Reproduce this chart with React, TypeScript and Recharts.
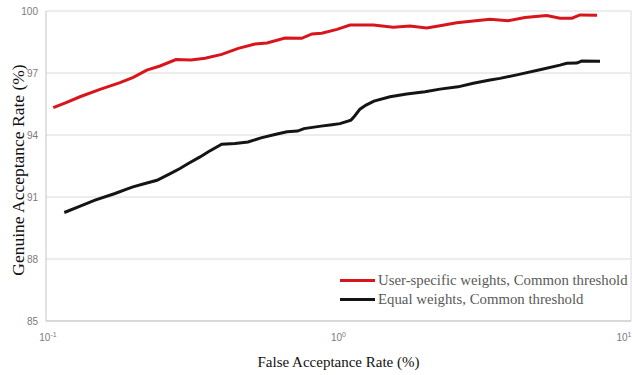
import React from 'react';
import { LineChart, Line, XAxis, YAxis, CartesianGrid, Legend, ReferenceLine, Label } from 'recharts';

// False acceptance rate (%) and genuine acceptance rate (%) per series
const userFar = [0.1059, 0.1177, 0.1307, 0.153, 0.1791, 0.1988, 0.221, 0.2453, 0.2782, 0.3131, 0.3498, 0.3988, 0.4544, 0.5183, 0.5696, 0.6564, 0.7485, 0.8117, 0.8762, 0.9883, 1.095, 1.315, 1.539, 1.755, 2.002, 2.223, 2.536, 2.89, 3.296, 3.798, 4.341, 5.15, 5.719, 6.284, 6.693, 7.651];
const userGar = [95.32, 95.58, 95.85, 96.21, 96.53, 96.79, 97.14, 97.34, 97.65, 97.63, 97.71, 97.9, 98.19, 98.4, 98.45, 98.69, 98.68, 98.89, 98.92, 99.11, 99.32, 99.32, 99.21, 99.27, 99.18, 99.29, 99.43, 99.52, 99.6, 99.53, 99.69, 99.78, 99.65, 99.65, 99.81, 99.8];

const equalFar = [0.1155, 0.129, 0.1471, 0.1722, 0.1888, 0.1983, 0.2181, 0.2396, 0.269, 0.2871, 0.3065, 0.3363, 0.359, 0.3988, 0.4429, 0.4905, 0.5433, 0.6113, 0.6668, 0.7242, 0.7621, 0.8714, 0.9502, 1.012, 1.103, 1.134, 1.184, 1.242, 1.322, 1.5, 1.711, 1.976, 2.223, 2.562, 2.89, 3.296, 3.565, 4.108, 4.924, 5.719, 6.027, 6.523, 6.785, 7.834];
const equalGar = [90.25, 90.52, 90.85, 91.17, 91.38, 91.49, 91.65, 91.81, 92.17, 92.38, 92.62, 92.94, 93.19, 93.55, 93.59, 93.66, 93.86, 94.04, 94.16, 94.19, 94.31, 94.43, 94.5, 94.55, 94.72, 94.91, 95.25, 95.45, 95.64, 95.85, 95.98, 96.09, 96.22, 96.33, 96.5, 96.66, 96.74, 96.92, 97.17, 97.38, 97.47, 97.48, 97.58, 97.57];

const xTicks = [0.1, 1, 10];
const xTickExponents = ['-1', '0', '1'];
const yTicks = [85, 88, 91, 94, 97, 100];

const seriesNames = ['User-specific weights, Common threshold', 'Equal weights, Common threshold'];
const seriesColors = ['#d9151c', '#141414'];

const userData = userFar.map((x, i) => ({ x, y: userGar[i] }));
const equalData = equalFar.map((x, i) => ({ x, y: equalGar[i] }));

const tickFont = '"Liberation Sans Narrow", "Liberation Sans", Arial, sans-serif';
const serif = '"Liberation Serif", "Times New Roman", serif';

const XTick = (props: any) => {
  const { x, y, payload, index } = props;
  const i = xTicks.indexOf(payload.value);
  const exp = xTickExponents[i >= 0 ? i : index];
  const first = i === 0;
  return (
    <text x={x + (first ? 2 : 0)} y={y + 12} textAnchor="middle" fill="#7a7a7a" fontSize={10} fontFamily={tickFont}>
      <tspan>10</tspan>
      <tspan dy={-4} fontSize={7}>{exp}</tspan>
    </text>
  );
};

const LegendContent = () => (
  <div style={{ fontFamily: serif, fontSize: 14.8, color: '#595959', lineHeight: '19px', whiteSpace: 'nowrap' }}>
    {seriesNames.map((n, i) => (
      <div key={n} style={{ display: 'flex', alignItems: 'center' }}>
        <span style={{ display: 'inline-block', width: 35, height: 3, background: seriesColors[i], marginRight: 3 }} />
        <span>{n}</span>
      </div>
    ))}
  </div>
);

export default function App() {
  return (
    <div style={{ position: 'absolute', left: 0, top: 0, background: '#fff' }}>
      <LineChart width={632} height={375} margin={{ top: 11, right: 1, left: 0, bottom: 0 }}>
        <CartesianGrid vertical={false} stroke="#dadada" strokeWidth={1} />
        <XAxis
          dataKey="x"
          type="number"
          scale="log"
          domain={[0.1, 10]}
          ticks={xTicks}
          allowDataOverflow
          height={54}
          axisLine={{ stroke: '#c4c4c4' }}
          tickLine={false}
          tick={<XTick />}
        >
          <Label value="False Acceptance Rate (%)" position="insideBottom" offset={8} fill="#111" fontSize={15} fontFamily={serif} />
        </XAxis>
        <YAxis
          type="number"
          domain={[85, 100]}
          ticks={yTicks}
          width={46}
          axisLine={{ stroke: '#c4c4c4' }}
          tickLine={false}
          tick={{ fill: '#7a7a7a', fontSize: 10, fontFamily: tickFont }}
        >
          <Label value="Genuine Acceptance Rate (%)" angle={-90} position="insideLeft" dx={13} dy={4} fill="#111" fontSize={17.5} fontFamily={serif} style={{ textAnchor: 'middle' }} />
        </YAxis>
        <ReferenceLine x={10} stroke="#dadada" ifOverflow="extendDomain" />
        <Legend
          layout="horizontal"
          align="center"
          verticalAlign="middle"
          content={<LegendContent />}
          wrapperStyle={{ left: 340, top: 271, width: 'auto' }}
        />
        <Line data={userData} dataKey="y" name={seriesNames[0]} stroke={seriesColors[0]} strokeWidth={3} dot={false} isAnimationActive={false} type="linear" />
        <Line data={equalData} dataKey="y" name={seriesNames[1]} stroke={seriesColors[1]} strokeWidth={3} dot={false} isAnimationActive={false} type="linear" />
      </LineChart>
    </div>
  );
}
